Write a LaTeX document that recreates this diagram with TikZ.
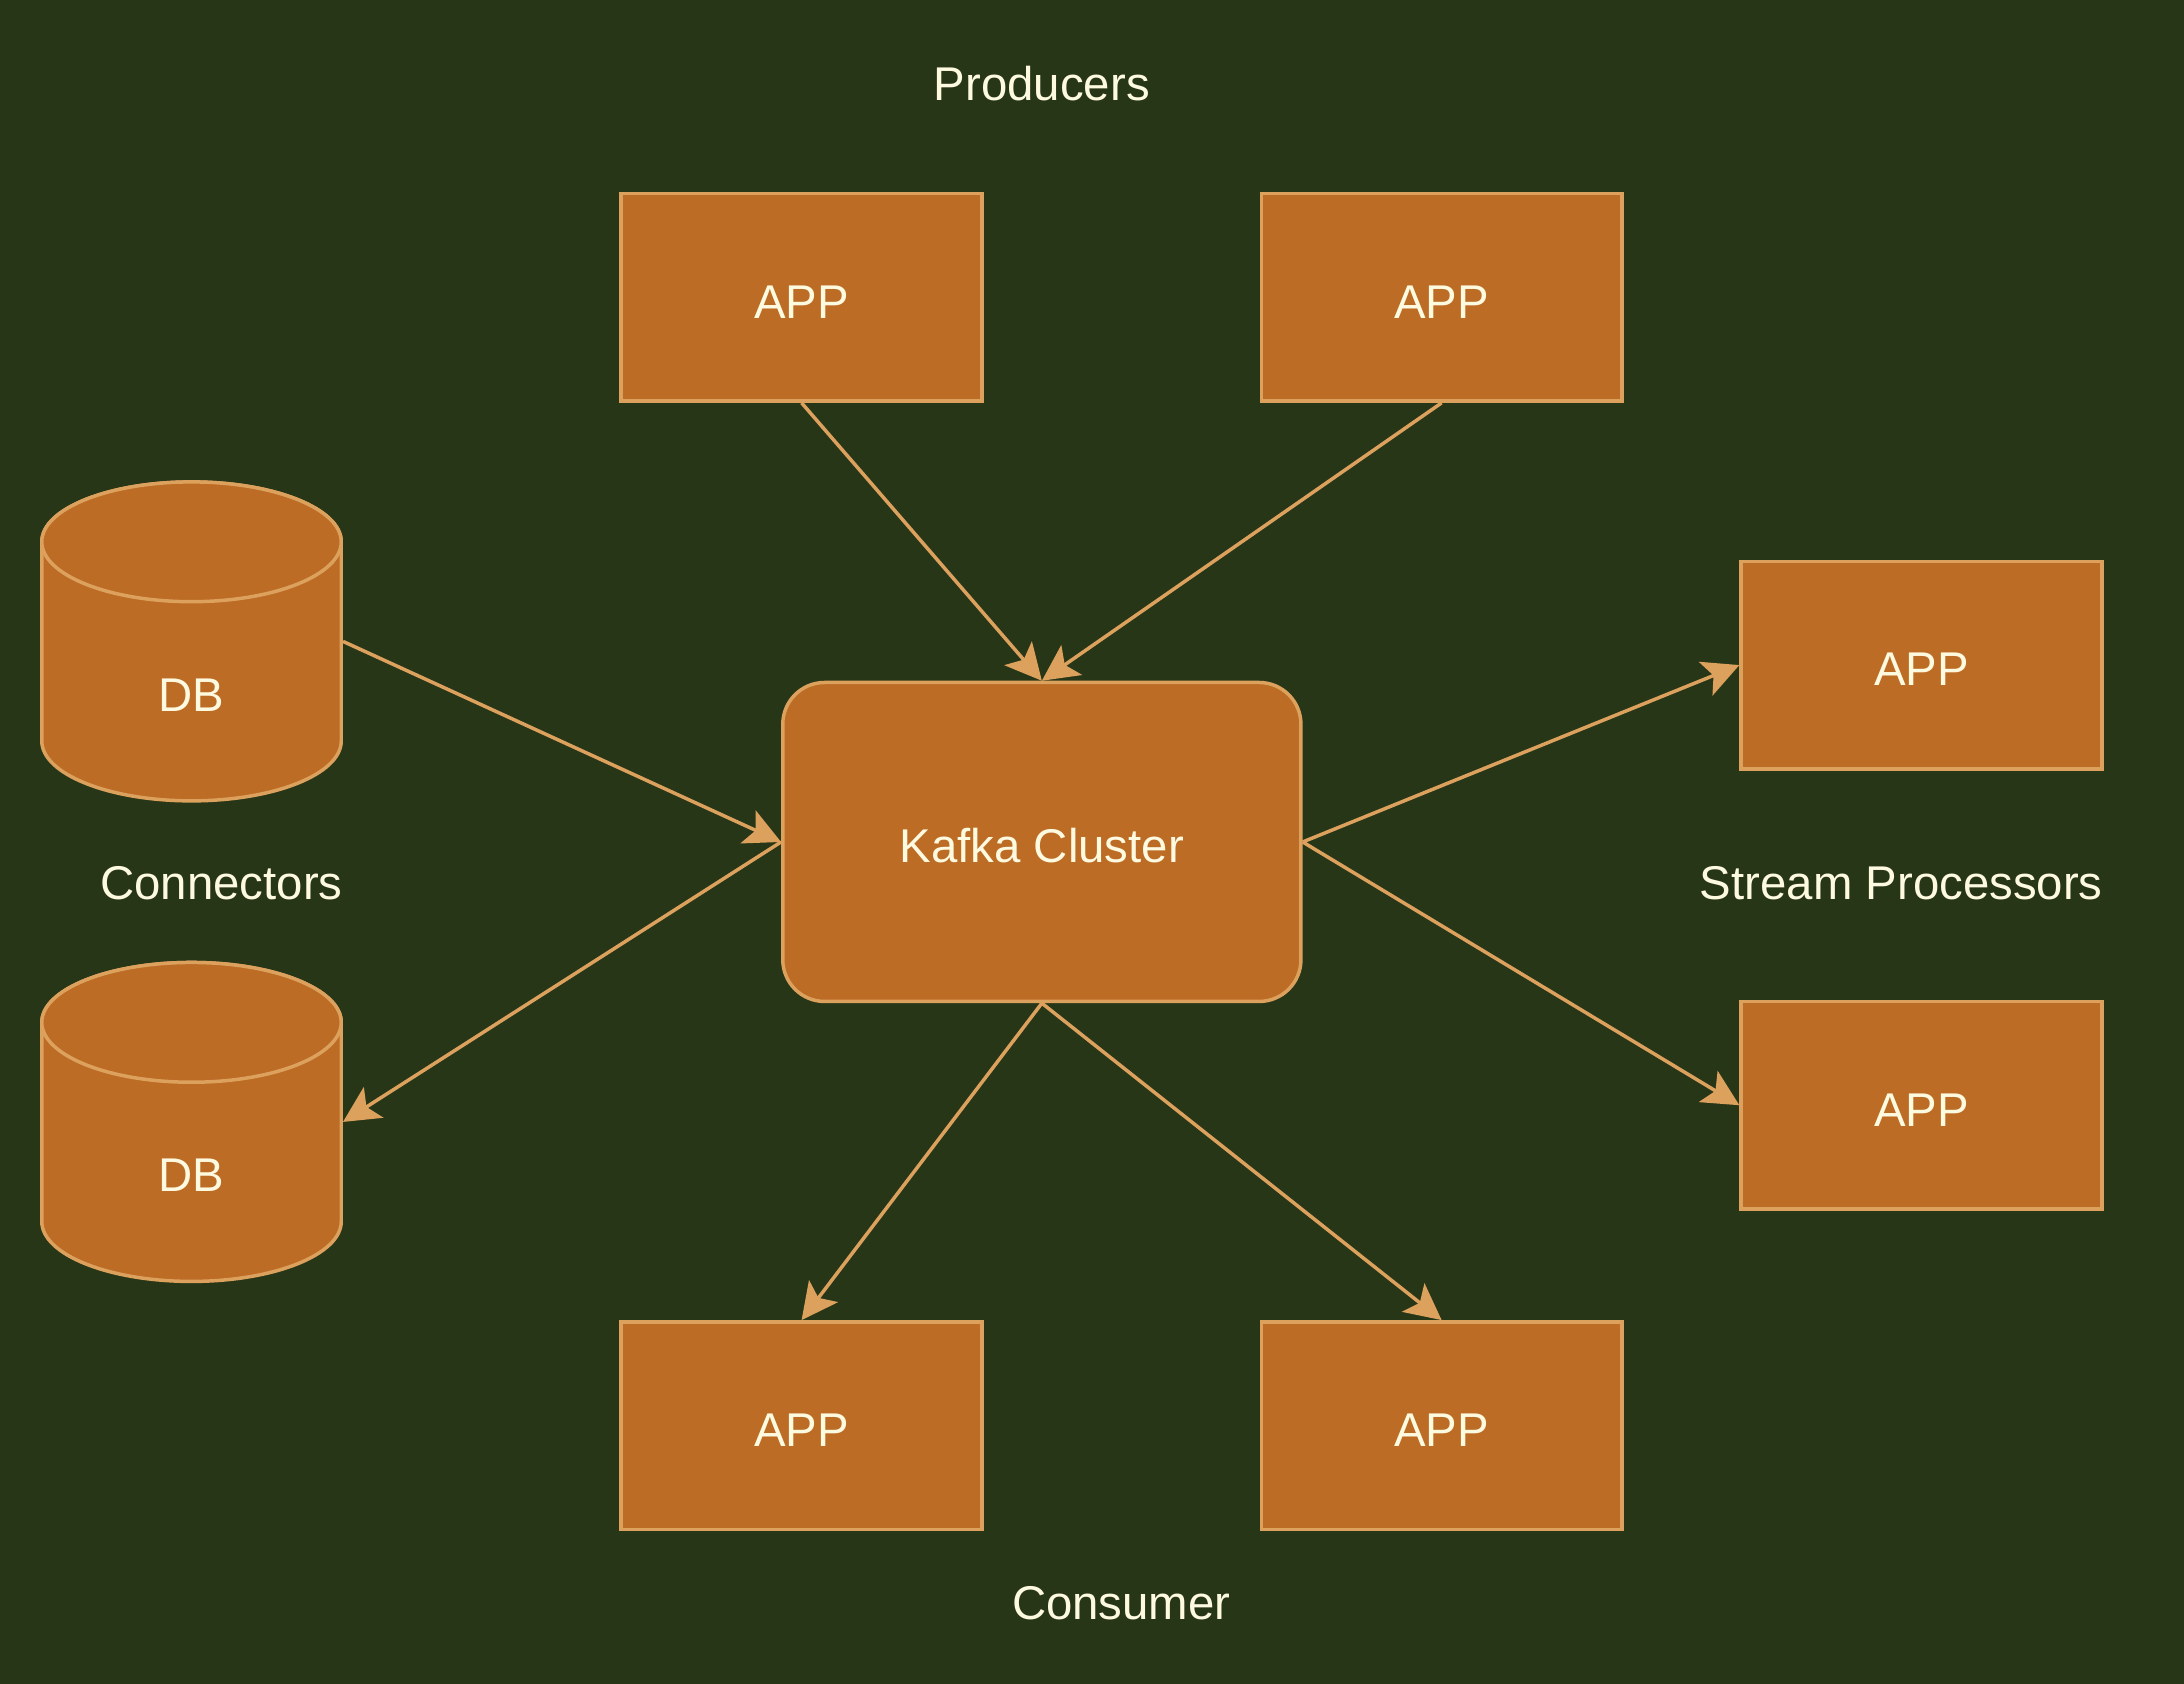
\documentclass[tikz,border=0pt]{standalone}
\usepackage{fontspec}
\setmainfont{Liberation Sans}
\usetikzlibrary{arrows.meta}
\definecolor{bg}{RGB}{40,54,24}
\definecolor{boxfill}{RGB}{188,108,37}
\definecolor{boxline}{RGB}{221,161,94}
\definecolor{txt}{RGB}{254,250,224}
\tikzset{
  lbl/.style={text=txt, font=\fontsize{34}{40}\selectfont, inner sep=0pt},
  appbox/.style={rectangle, draw=boxline, fill=boxfill, line width=2.5pt,
    minimum width=259pt, minimum height=149pt, text=txt,
    font=\fontsize{34}{40}\selectfont, inner sep=0pt, text height=30pt, text depth=0pt},
  kafkabox/.style={appbox, rounded corners=30pt, minimum width=372pt, minimum height=229pt},
  dbframe/.style={rectangle, minimum width=215pt, minimum height=229pt, inner sep=0pt, outer sep=1.25pt},
  cyl/.style={draw=boxline, fill=boxfill, line width=2.5pt},
  conn/.style={draw=boxline, line width=2.5pt, -{Stealth[length=26pt, width=26pt, inset=6pt]}}
}
\begin{document}
\begin{tikzpicture}[x=1pt,y=1pt]
\fill[bg] (0,0) rectangle (1568,1209);
\useasboundingbox (0,0) rectangle (1568,1209);

% cylinders
\path[cyl] (30,820) -- (30,677) arc[start angle=180,end angle=360,x radius=107.5,y radius=43]
  -- (245,820) arc[start angle=0,end angle=180,x radius=107.5,y radius=43] -- cycle;
\draw[cyl] (137.5,820) ellipse[x radius=107.5,y radius=43];
\path[cyl] (30,475) -- (30,332) arc[start angle=180,end angle=360,x radius=107.5,y radius=43]
  -- (245,475) arc[start angle=0,end angle=180,x radius=107.5,y radius=43] -- cycle;
\draw[cyl] (137.5,475) ellipse[x radius=107.5,y radius=43];
\node[dbframe] (db1) at (137.5,748.5) {};
\node[dbframe] (db2) at (137.5,403.5) {};
\node[lbl] (db1t) at (137.5,710) {DB};
\node[lbl] (db2t) at (137.5,365) {DB};

% boxes
\node[appbox] (a1) at (575.5,995.5) {APP};
\node[appbox] (a2) at (1035,995.5) {APP};
\node[kafkabox] (k) at (748,604.5) {Kafka Cluster};
\node[appbox] (r1) at (1379.5,731.5) {APP};
\node[appbox] (r2) at (1379.5,415.5) {APP};
\node[appbox] (b1) at (575.5,185.5) {APP};
\node[appbox] (b2) at (1035,185.5) {APP};

% labels
\node[lbl] (prod) at (748,1149) {Producers};
\node[lbl] (connl) at (159,575) {Connectors};
\node[lbl] (strl) at (1365,575) {Stream Processors};
\node[lbl] (cons) at (805,58) {Consumer};

% connectors
\draw[conn] (a1.south) -- (k.north);
\draw[conn] (a2.south) -- (k.north);
\draw[conn] (db1.east) -- (k.west);
\draw[conn] (k.west) -- (db2.east);
\draw[conn] (k.east) -- (r1.west);
\draw[conn] (k.east) -- (r2.west);
\draw[conn] (k.south) -- (b1.north);
\draw[conn] (k.south) -- (b2.north);
\end{tikzpicture}
\end{document}
